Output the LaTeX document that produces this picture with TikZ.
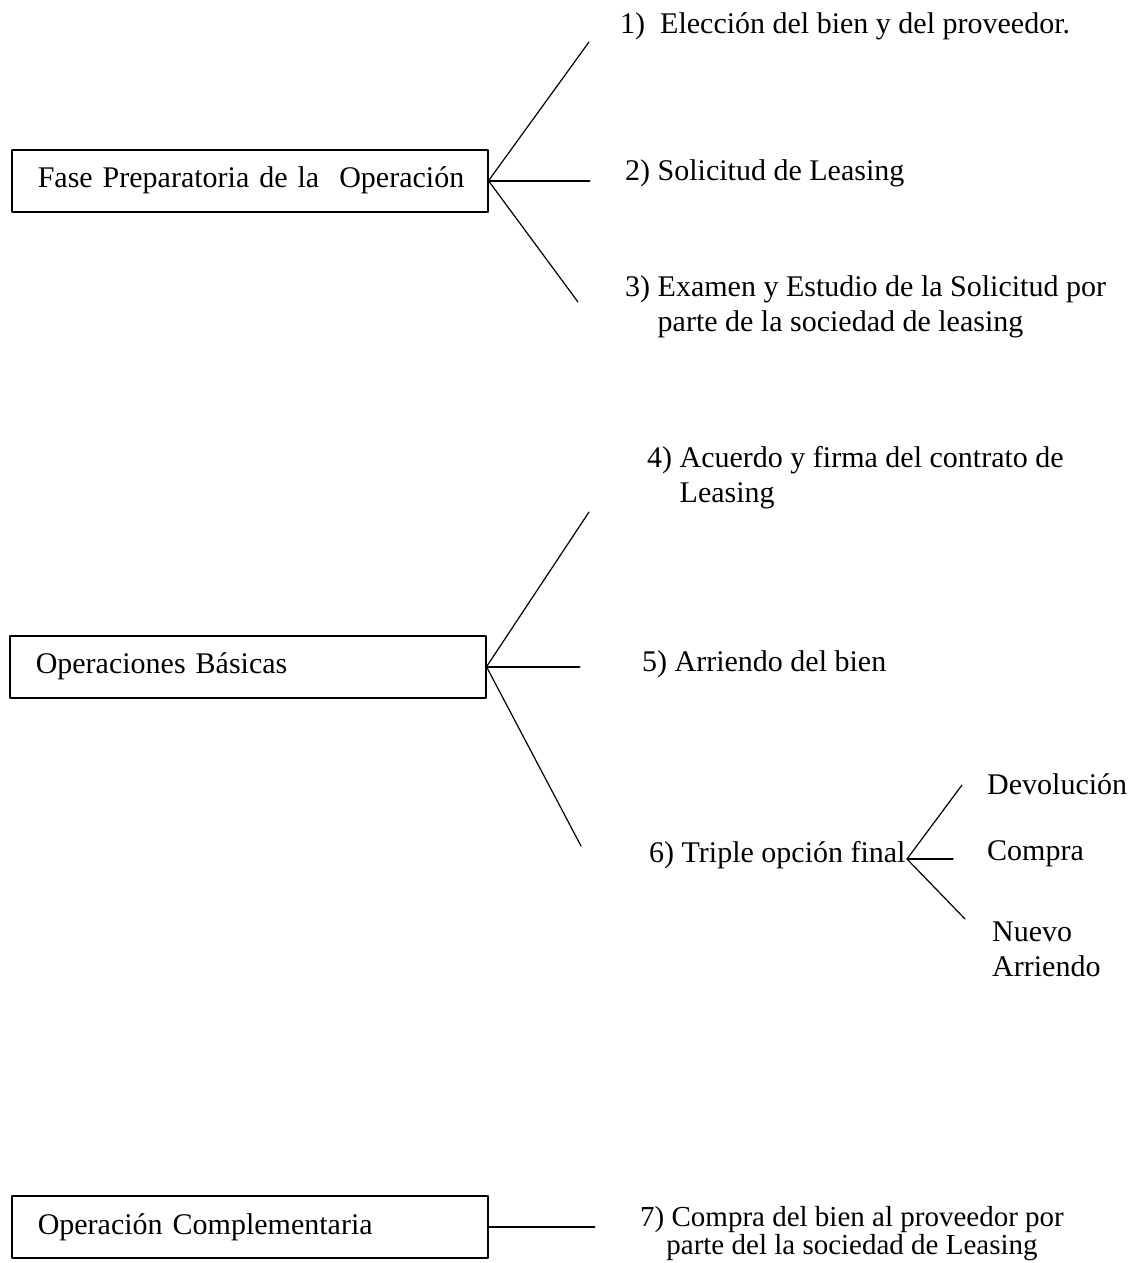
\documentclass[tikz,border=0pt]{standalone}
\usepackage{fontspec}
\setmainfont{Liberation Serif}
\usetikzlibrary{positioning}
\tikzset{
  fasebox/.style={draw,line width=1.5pt,anchor=north west,minimum width=476pt,minimum height=62pt,
    text width=424pt,inner xsep=26pt,align=left},
  paso/.style={anchor=base west,inner sep=0pt,align=left},
  rama/.style={line width=1.2pt},
  recta/.style={line width=2pt}
}

\begin{document}
\begin{tikzpicture}[line cap=round,line join=round,x=1pt,y=-1pt,font=\fontsize{30}{35}\selectfont]
\useasboundingbox (0,0) rectangle (1133,1263);
% cajas de las fases
\node[fasebox] (fase) at (11,149) {\mbox{Fase Preparatoria de la\ \ Operación}};
\node[fasebox] (basicas) at (9,635) {Operaciones Básicas};
\node[fasebox] (compl) at (11,1195) {Operación Complementaria};
% pasos (en los de dos lineas el punto es la base de la ultima)
\node[paso] (p1) at (620,34) {1)\ \ Elección del bien y del proveedor.};
\node[paso] (p2) at (625,180) {2) Solicitud de Leasing};
\node[paso] (p3) at (625,331) {3) Examen y Estudio de la Solicitud por\\\phantom{3) }parte de la sociedad de leasing};
\node[paso] (p4) at (647,502) {4) Acuerdo y firma del contrato de\\\phantom{4) }Leasing};
\node[paso] (p5) at (642,671) {5) Arriendo del bien};
\node[paso] (p6) at (649,862) {6) Triple opción final};
\node[paso] (devol) at (987,794) {Devolución};
\node[paso] (compra) at (987,860) {Compra};
\node[paso] (nuevo) at (992,976) {Nuevo\\Arriendo};
\node[paso,align=center,font=\fontsize{29}{26}\selectfont] (p7) at (640,1254) {7) Compra del bien al proveedor por\\parte del la sociedad de Leasing};
% extremos libres de las ramas
\coordinate (a1) at (589,42);
\path (fase.east) ++(101,0) coordinate (a2);
\coordinate (a3) at (578,302);
\coordinate (b1) at (589,512);
\path (basicas.east) ++(93,0) coordinate (b2);
\coordinate (b3) at (581,846);
\path (compl.east) ++(106,0) coordinate (c1);
\coordinate (o6) at (907,859);
\coordinate (d1) at (962,785);
\coordinate (d2) at (953,859);
\coordinate (d3) at (965,919);
% ramas
\draw[rama] (a1) -- (fase.east) -- (a3);
\draw[recta] (fase.east) -- (a2);
\draw[rama] (b1) -- (basicas.east) -- (b3);
\draw[recta] (basicas.east) -- (b2);
\draw[recta] (compl.east) -- (c1);
\draw[rama] (d1) -- (o6) -- (d3);
\draw[rama] (o6) -- (d2);
\end{tikzpicture}
\end{document}
